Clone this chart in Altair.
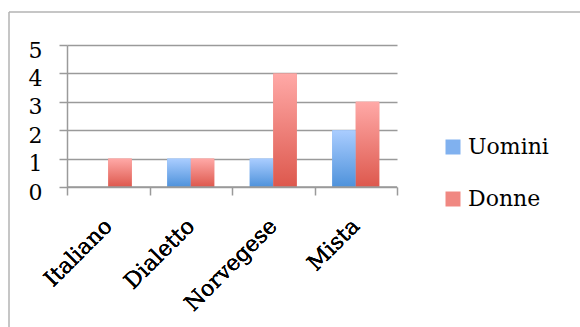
import altair as alt
import pandas as pd

categories = ["Italiano", "Dialetto", "Norvegese", "Mista"]
series = ["Uomini", "Donne"]
uomini = [0, 1, 1, 2]
donne = [1, 1, 4, 3]
y_ticks = [0, 1, 2, 3, 4, 5]

rows = []
for i, cat in enumerate(categories):
    rows.append({"lingua": cat, "sesso": "Uomini", "valore": uomini[i]})
    rows.append({"lingua": cat, "sesso": "Donne", "valore": donne[i]})
df = pd.DataFrame(rows)

# category boundaries for the tick marks under the baseline
bounds = pd.DataFrame([{"b0": 0, "b1": len(categories), "valore": 0}])

FONT = "DejaVu Serif"
GRID = "#9a9a9a"
flat_colors = ["#80b1ef", "#f08882"]


def grad(top, bottom):
    return {
        "gradient": "linear",
        "x1": 0, "y1": 0, "x2": 0, "y2": 1,
        "stops": [{"offset": 0, "color": top}, {"offset": 1, "color": bottom}],
    }


grad_blue = grad("#aacdff", "#4e92db")
grad_red = grad("#ffa9a7", "#dd584d")

x_enc = alt.X(
    "lingua:N",
    sort=categories,
    scale=alt.Scale(paddingInner=0.43, paddingOuter=0.215),
    axis=alt.Axis(
        orient="bottom", title=None, ticks=False, domain=False, labelAngle=-45,
        labelAlign="right", labelBaseline="top", labelPadding=28, labelOffset=-7,
        labelFont=FONT, labelFontSize=22, labelColor="#000000",
    ),
)
xo_enc = alt.XOffset("sesso:N", sort=series, scale=alt.Scale(domain=series, paddingInner=0, paddingOuter=0))
y_enc = alt.Y(
    "valore:Q",
    scale=alt.Scale(domain=[0, 5], nice=False),
    axis=alt.Axis(
        title=None, values=y_ticks, format="d", grid=True, gridColor=GRID, gridWidth=1.5,
        domainColor=GRID, domainWidth=1.5, tickColor=GRID, tickWidth=1.5, tickSize=8,
        labelPadding=17, labelOffset=5, labelFont=FONT, labelFontSize=22,
        labelColor="#000000",
    ),
)

# flat bars that also carry the legend
legend_bars = alt.Chart(df).mark_bar().encode(
    x=x_enc, xOffset=xo_enc, y=y_enc,
    color=alt.Color(
        "sesso:N", sort=series,
        scale=alt.Scale(domain=series, range=flat_colors),
        legend=alt.Legend(
            title=None, orient="none", legendX=375, legendY=91, padding=0,
            symbolType="square", symbolSize=225, symbolStrokeWidth=0,
            labelFont=FONT, labelFontSize=22, labelColor="#000000",
            labelOffset=4, rowPadding=30,
        ),
    ),
)

blue_bars = alt.Chart(df).transform_filter(alt.datum.sesso == "Uomini").mark_bar(
    color=grad_blue).encode(x=x_enc, xOffset=xo_enc, y=y_enc)
red_bars = alt.Chart(df).transform_filter(alt.datum.sesso == "Donne").mark_bar(
    color=grad_red).encode(x=x_enc, xOffset=xo_enc, y=y_enc)

baseline = alt.Chart(bounds).mark_rule(color=GRID, strokeWidth=1.5).encode(
    x=alt.X(
        "b0:Q", scale=alt.Scale(domain=[0, len(categories)], nice=False),
        axis=alt.Axis(
            orient="bottom", title=None, values=list(range(len(categories) + 1)),
            labels=False, grid=False, domain=False, tickColor=GRID, tickWidth=1.5, tickSize=8,
        ),
    ),
    x2="b1:Q",
    y=y_enc,
)

# outer frame (left and top edges)
frame_left = alt.Chart(alt.Data(values=[{}])).mark_rule(color="#b3b3b3", strokeWidth=1.5).encode(
    x=alt.value(-58), y=alt.value(-33), y2=alt.value(300))
frame_top = alt.Chart(alt.Data(values=[{}])).mark_rule(color="#b3b3b3", strokeWidth=1.5).encode(
    x=alt.value(-58), x2=alt.value(560), y=alt.value(-33))

chart = alt.layer(
    legend_bars, blue_bars, red_bars, baseline, frame_left, frame_top
).resolve_scale(x="independent").resolve_axis(x="independent").properties(
    width=330, height=142,
    autosize=alt.AutoSizeParams(type="none"),
    padding={"left": 67, "top": 45, "right": 183, "bottom": 140},
    background="#ffffff",
).configure_view(stroke=None)

chart.save("out.html", embed_options={"renderer": "svg", "actions": False})
